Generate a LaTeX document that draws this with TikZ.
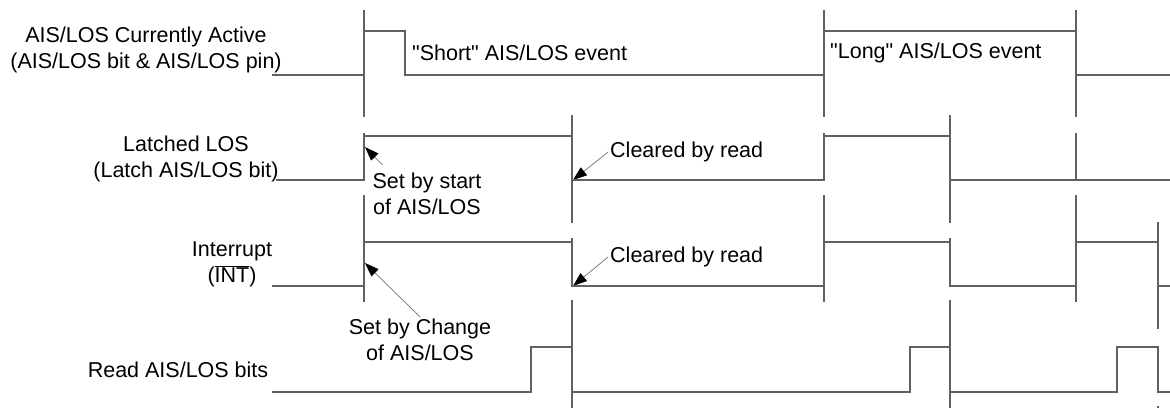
\documentclass[tikz,border=0pt]{standalone}
\usepackage{fontspec}
\setmainfont{Liberation Sans}[Ligatures=TeXOff]
\usepackage{tikz}
\usetikzlibrary{arrows.meta,positioning,calc}
\def\TDFont{\fontsize{21.5}{26}\selectfont}
\def\TDEnd{1170}

\begin{document}
\begin{tikzpicture}[x=1pt,y=-1pt,
		sig/.style={draw=black!62,line width=1.3pt},
		lbl/.style={font=\TDFont,align=center,inner sep=2pt},
		pointer/.style={draw=black!55,line width=0.7pt,-{Triangle[length=14pt,width=10pt,black]}}]
			\useasboundingbox (0,0) rectangle (\TDEnd,408);
			% signal names
			\node[lbl] (active) at (146,50) {AIS/LOS Currently Active\\(AIS/LOS bit \& AIS/LOS pin)};
			\node[lbl] (latched) at (186,159) {Latched LOS\\(Latch AIS/LOS bit)};
			\node[lbl] (intr) at (232,264) {Interrupt\\($\overline{\mbox{INT}}$)};
			\node[lbl] (rdbits) at (178,370) {Read AIS/LOS bits};
			% notes
			\node[lbl,anchor=west] (shortEv) at (410,53) {"Short" AIS/LOS event};
			\node[lbl,anchor=west] (longEv) at (828,53) {"Long" AIS/LOS event};
			\node[lbl,anchor=west] (clrLatch) at (608,152) {Cleared by read};
			\node[lbl,anchor=west] (clrInt) at (608,257) {Cleared by read};
			\node[lbl] (setStart) at (427,194) {Set by start\\of AIS/LOS};
			\node[lbl] (setChange) at (420,340) {Set by Change\\of AIS/LOS};
			\coordinate (tipLatch) at (365,147);
			\coordinate (tipInt) at (365,263);
			\coordinate (tipClrLatch) at (573,180);
			\coordinate (tipClrInt) at (573,286);
			\draw[pointer] ($(setStart.north west)+(12,-6)$) -- (tipLatch);
			\draw[pointer] (setChange.north) -- (tipInt);
			\draw[pointer] (clrLatch.west) -- (tipClrLatch);
			\draw[pointer] (clrInt.west) -- (tipClrInt);
			% waveforms
			\draw[sig] (272,75) -- (364,75) -- (364,31) -- (405,31) -- (405,75) -- (824,75) -- (824,31) -- (1076,31) -- (1076,75) -- (\TDEnd,75);
			\draw[sig] (276,180) -- (364,180) -- (364,136) -- (572,136) -- (572,180) -- (824,180) -- (824,136) -- (950,136) -- (950,180) -- (\TDEnd,180);
			\draw[sig] (272,286) -- (364,286) -- (364,242) -- (572,242) -- (572,286) -- (824,286) -- (824,242) -- (950,242) -- (950,286) -- (1076,286) -- (1076,242) -- (1158,242) -- (1158,286) -- (\TDEnd,286);
			\draw[sig] (272,392) -- (531,392) -- (531,347) -- (572,347) -- (572,392) -- (910,392) -- (910,347) -- (950,347) -- (950,392) -- (1117,392) -- (1117,347) -- (1158,347) -- (1158,392) -- (\TDEnd,392);
			% event markers
			\foreach \x in {364,824,1076} {
				\draw[sig] (\x,10) -- (\x,117);
				\draw[sig] (\x,133) -- (\x,180);
				\draw[sig] (\x,195) -- (\x,302);
			}
			\foreach \x in {572,950} {
				\draw[sig] (\x,115) -- (\x,223);
				\draw[sig] (\x,238) -- (\x,286);
				\draw[sig] (\x,300) -- (\x,408);
			}
			\draw[sig] (1158,222) -- (1158,329);
			\draw[sig] (1158,406) -- (1158,408);
		\end{tikzpicture}
\end{document}
